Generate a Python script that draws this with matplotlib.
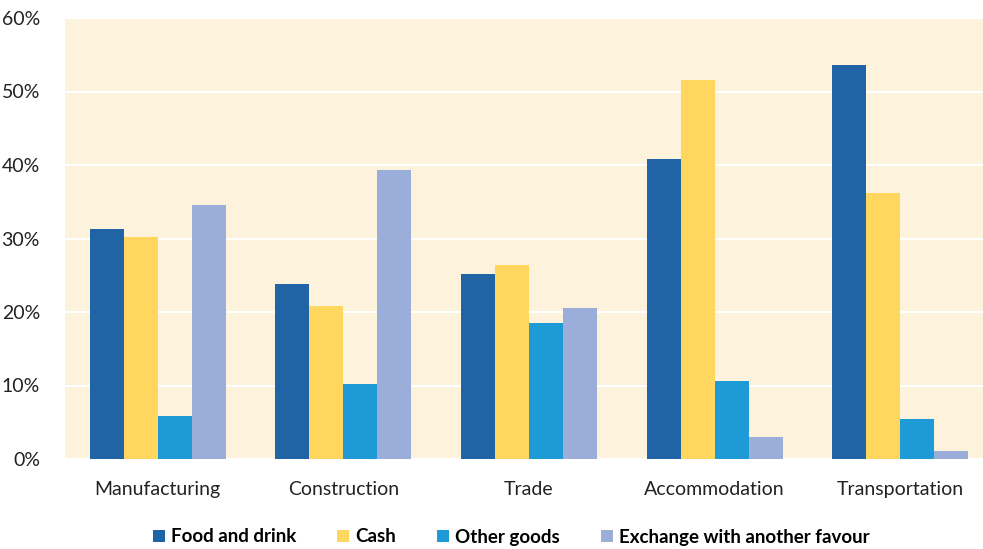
import matplotlib
matplotlib.use("Agg")
import matplotlib.pyplot as plt
import numpy as np
from matplotlib.ticker import FuncFormatter

plt.rcParams['font.family'] = ['Lato', 'DejaVu Sans']

categories = ["Manufacturing", "Construction", "Trade", "Accommodation", "Transportation"]
series_names = ["Food and drink", "Cash", "Other goods", "Exchange with another favour"]
food = [31.3, 23.8, 25.2, 40.8, 53.6]
cash = [30.2, 20.8, 26.4, 51.5, 36.2]
other = [5.85, 10.2, 18.5, 10.6, 5.4]
exchange = [34.6, 39.3, 20.5, 3.0, 1.1]
colors = ["#2064A5", "#FFD75F", "#1E9AD6", "#9BAED9"]

fig = plt.figure(figsize=(9.83, 5.49), dpi=100)
ax = fig.add_axes([65/983, 1-459/549, 928/983, 441/549])
ax.set_facecolor("#FDF3DC")
x = np.arange(len(categories))
w = 0.183
data = [food, cash, other, exchange]
for i, (vals, c, n) in enumerate(zip(data, colors, series_names)):
    ax.bar(x + (i - 1.5) * w, vals, w, color=c, label=n, zorder=3)

ax.set_xlim(-0.5, len(categories) - 0.5)
ax.set_ylim(0, 60)
ax.set_yticks(np.arange(0, 61, 10))
ax.yaxis.set_major_formatter(FuncFormatter(lambda v, p: f"{int(v)}%"))
ax.grid(axis='y', color='white', linewidth=1.5, zorder=1)
ax.set_xticks(x)
ax.set_xticklabels(categories)
for s in ax.spines.values():
    s.set_visible(False)
ax.tick_params(length=0, labelsize=14, colors="#222222")
ax.tick_params(axis='x', pad=16)
ax.tick_params(axis='y', pad=18)

leg = fig.legend(loc='center', bbox_to_anchor=(511/983, 1-537/549), ncol=4, frameon=False,
                 prop={'weight': 'bold', 'size': 13.5}, handlelength=0.65, handleheight=0.65,
                 handletextpad=0.3, columnspacing=2.2)
plt.savefig("out.png", dpi=100)
